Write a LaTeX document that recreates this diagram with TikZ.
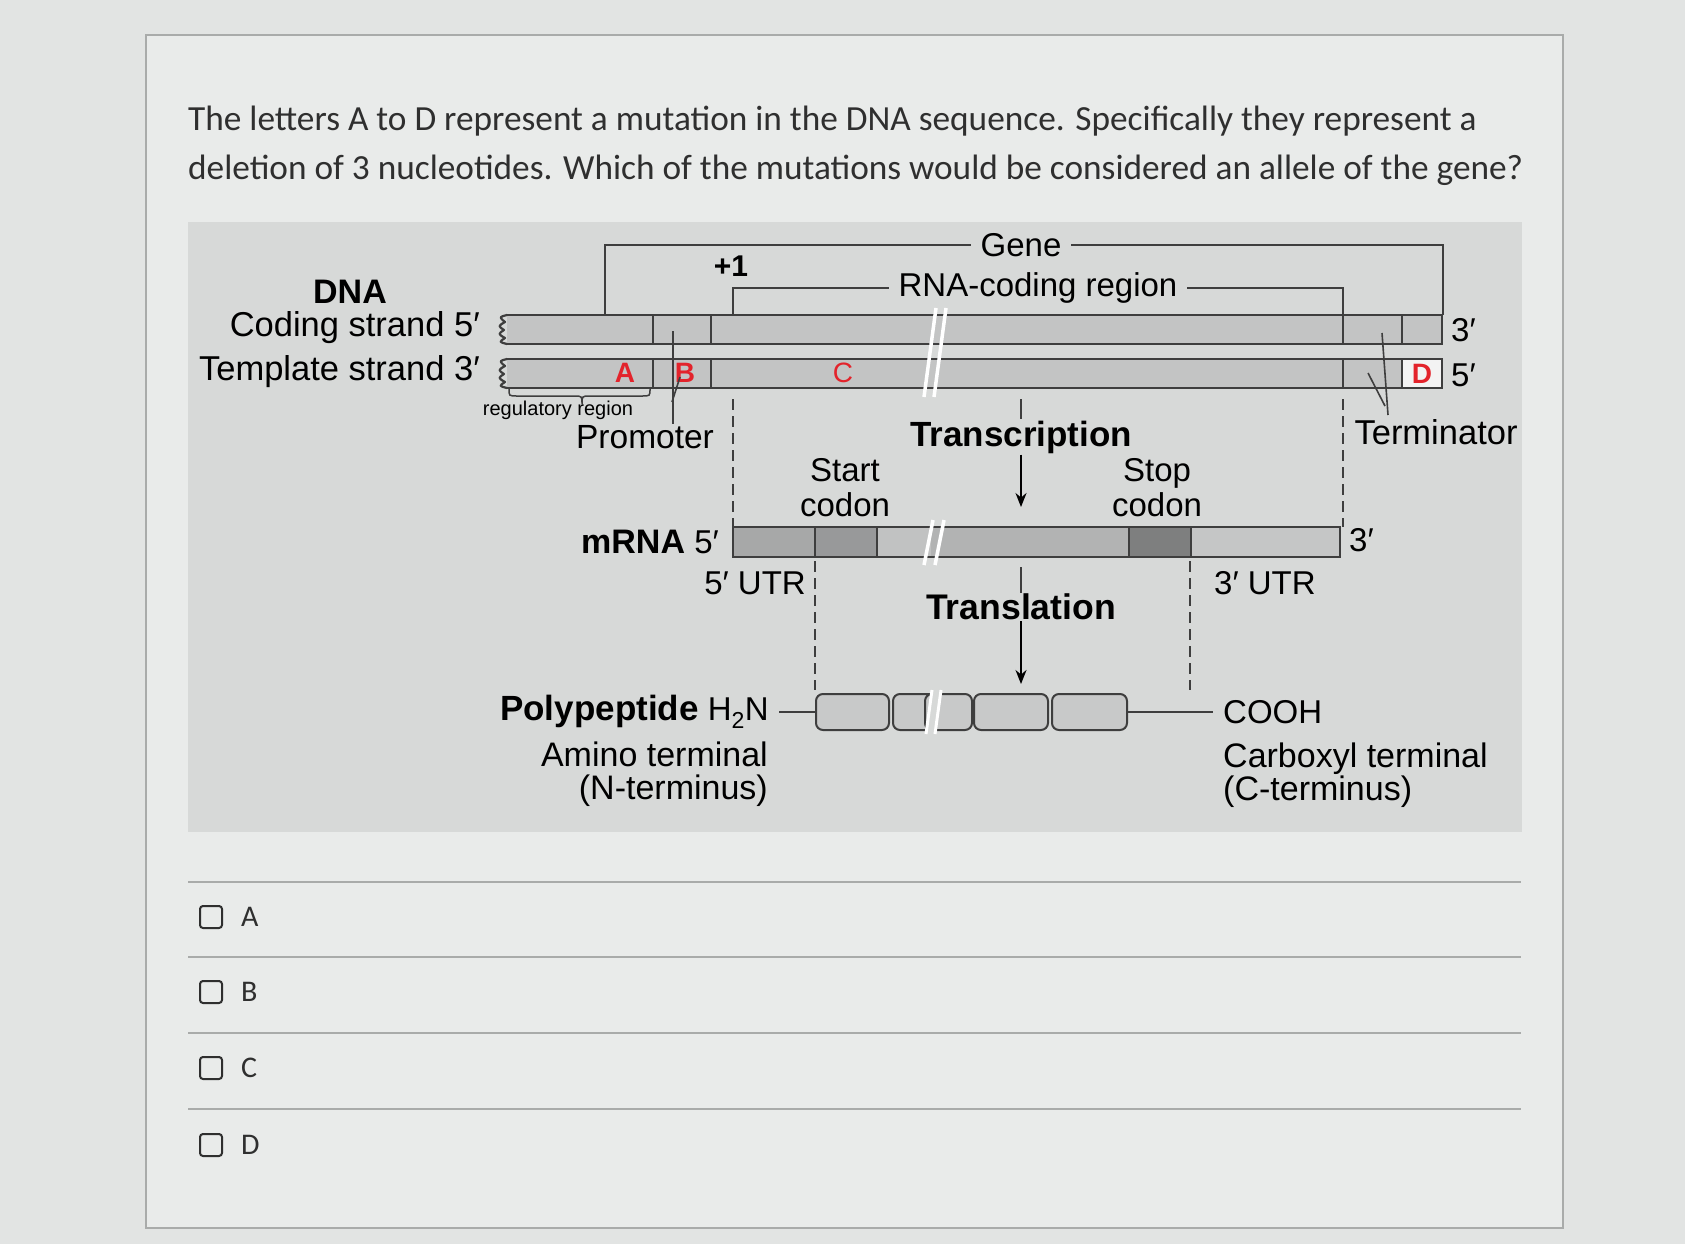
\documentclass[tikz,border=0pt]{standalone}
\usepackage{fontspec}
\setmainfont{Liberation Sans}
\newfontfamily\quizfont{Carlito}
\usetikzlibrary{arrows.meta}
\definecolor{pagebg}{HTML}{E2E4E3}
\definecolor{panelbg}{HTML}{E9EBEA}
\definecolor{rulegray}{HTML}{A9ABAA}
\definecolor{figbg}{HTML}{D7D9D8}
\definecolor{strandgray}{HTML}{C3C4C4}
\definecolor{inkgray}{HTML}{3E3E3E}
\definecolor{mutred}{HTML}{E3232B}
\definecolor{utrfive}{HTML}{A7A8A8}
\definecolor{startcod}{HTML}{98999A}
\definecolor{codreg}{HTML}{B2B3B3}
\definecolor{stopcod}{HTML}{7E7F7F}
\definecolor{utrthree}{HTML}{C5C6C6}
\definecolor{beadgray}{HTML}{C8C9C9}
\definecolor{quizink}{HTML}{2F2F2F}
\newcommand{\wavyend}[2]{
  \draw[inkgray, line width=2.2pt, line join=round] (#1,#2) .. controls (#1-8,#2+2) .. (#1-2,#2+7)
    .. controls (#1-9,#2+11) .. (#1-3,#2+15) .. controls (#1-9,#2+19) .. (#1-2,#2+23)
    .. controls (#1-8,#2+27) .. (#1,#2+29);
}

\tikzset{
  lbl/.style={inner sep=1pt, text=black, font=\fontsize{33}{35}\selectfont},
  blbl/.style={lbl, font=\bfseries\fontsize{35}{37}\selectfont},
  mut/.style={inner sep=0pt, text=mutred, font=\bfseries\fontsize{28}{30}\selectfont},
  bracket/.style={draw=inkgray, line width=2pt},
  guide/.style={draw=inkgray, line width=2pt, dash pattern=on 11pt off 6pt},
  pointer/.style={draw=inkgray, line width=1.6pt},
  flow/.style={draw=black, line width=2pt, -{Stealth[length=14pt,width=11pt]}},
  bead/.style={draw=inkgray, line width=2pt, fill=beadgray, rounded corners=7pt, minimum height=36pt, inner sep=0pt},
  cut/.style={white, line width=3.5pt},
}

\begin{document}
\begin{tikzpicture}[x=1pt,y=-1pt]
\useasboundingbox (0,0) rectangle (1685,1244);
% page, panel and question
\fill[pagebg] (0,0) rectangle (1685,1244);
\fill[panelbg] (146,35) rectangle (1563,1228);
\draw[rulegray, line width=1.5pt] (146,35) -- (1563,35) -- (1563,1228) -- (146,1228) -- cycle;
\node[anchor=west, align=left, inner sep=0pt, text=quizink, font=\quizfont\fontsize{35.3}{49}\selectfont] (question) at (188,146)
  {The letters A to D represent a mutation in the DNA sequence. Specifically they represent a\\
   deletion of 3 nucleotides. Which of the mutations would be considered an allele of the gene?};
\fill[figbg] (188,222) rectangle (1522,832);

% gene brackets
\node[lbl, inner xsep=9pt] (gene) at (1021,245) {Gene};
\draw[bracket] (605,315) |- (gene.west);
\draw[bracket] (1443,315) |- (gene.east);
\node[lbl, inner xsep=9pt] (rnacode) at (1038,288) {RNA-coding region};
\draw[bracket] (733,315) |- (rnacode.west);
\draw[bracket] (1343,315) |- (rnacode.east);
\node[lbl, font=\bfseries\fontsize{30}{32}\selectfont] (plusone) at (731,266) {+1};

% DNA strands
\fill[strandgray] (507,315) rectangle (1442,344);
\fill[strandgray] (507,359) rectangle (1442,388);
\fill[white!80!strandgray] (1402,359) rectangle (1442,388);
\draw[inkgray, line width=2pt] (507,315) -- (1442,315) -- (1442,344) -- (507,344);
\draw[inkgray, line width=2pt] (507,359) -- (1442,359) -- (1442,388) -- (507,388);
\wavyend{507}{315}
\wavyend{507}{359}
\foreach \xd in {653,711,1343,1402} {
  \draw[inkgray, line width=2pt] (\xd,315) -- (\xd,344);
  \draw[inkgray, line width=2pt] (\xd,359) -- (\xd,388);
}
\draw[cut] (924,397) -- (936,308);
\draw[cut] (934,397) -- (946,308);

\node[blbl, font=\bfseries\fontsize{34}{36}\selectfont] (dna) at (350,292) {DNA};
\node[lbl, anchor=east, font=\fontsize{34.5}{36}\selectfont] (coding) at (481,328) {Coding strand 5′};
\node[lbl, anchor=east, font=\fontsize{34.5}{36}\selectfont] (template) at (481,372) {Template strand 3′};
\node[lbl, anchor=west] (cod3) at (1450,330) {3′};
\node[lbl, anchor=west] (tem5) at (1450,375) {5′};

% mutations
\node[mut] (mutA) at (625,373) {A};
\node[mut] (mutB) at (685,373) {B};
\node[mut, font=\fontsize{28}{30}\selectfont] (mutC) at (843,373) {C};
\node[mut] (mutD) at (1422,374) {D};

% regulatory region and promoter
\draw[inkgray, line width=1.5pt] (509,389) .. controls (509,396) .. (517,396) -- (574,396)
  .. controls (582,396) .. (582,404) .. controls (582,396) .. (590,396) -- (642,396) .. controls (650,396) .. (650,389);
\node[inner sep=0pt, font=\fontsize{20}{22}\selectfont] (regreg) at (558,410) {regulatory region};
\node[lbl, font=\fontsize{33.5}{35}\selectfont] (promoter) at (645,437) {Promoter};
\coordinate (promcod) at (673,331);
\coordinate (promtem) at (680,377);
\coordinate (promjoin) at (672,402);
\draw[pointer] (promcod) -- (promcod |- promoter.north);
\draw[pointer] (promtem) -- (promjoin);

% terminator
\node[lbl, font=\fontsize{34.5}{36}\selectfont] (terminator) at (1436,432) {Terminator};
\coordinate (termcod) at (1382,333);
\coordinate (termfoot) at (1388,415);
\coordinate (termtem) at (1368,373);
\coordinate (termjoin) at (1385,406);
\draw[pointer] (termcod) -- (termfoot);
\draw[pointer] (termtem) -- (termjoin);

% transcription
\node[blbl] (transcr) at (1021,437) {Transcription};
\coordinate (transtick) at (1021,399);
\coordinate (mrnatop) at (1021,507);
\draw[pointer, line width=2pt] (transtick) -- (transcr.north);
\draw[flow] (transcr.south) -- (mrnatop);
\node[lbl, align=center] (startc) at (845,488) {Start\\codon};
\node[lbl, align=center] (stopc) at (1157,488) {Stop\\codon};

% mRNA
\fill[utrfive] (733,527) rectangle (815,557);
\fill[startcod] (815,527) rectangle (877,557);
\fill[codreg!80!white] (877,527) rectangle (931,557);
\fill[codreg] (931,527) rectangle (1129,557);
\fill[stopcod] (1129,527) rectangle (1191,557);
\fill[utrthree] (1191,527) rectangle (1340,557);
\draw[inkgray, line width=2pt] (733,527) rectangle (1340,557);
\foreach \xd in {815,877,1129,1191}
  \draw[inkgray, line width=2pt] (\xd,527) -- (\xd,557);
\draw[cut] (924,565) -- (933,520);
\draw[cut] (935,565) -- (944,520);
\node[lbl, anchor=east] (mrna) at (720,542) {{\bfseries\fontsize{34}{36}\selectfont mRNA} 5′};
\node[lbl, anchor=west] (mrna3) at (1348,540) {3′};
\node[lbl, anchor=east] (utr5) at (807,583) {5′ UTR};
\node[lbl, anchor=west] (utr3) at (1213,583) {3′ UTR};

% dashed guides
\coordinate (plusup) at (733,399);
\coordinate (plusdown) at (733,527);
\coordinate (termup) at (1343,399);
\coordinate (termdown) at (1343,527);
\coordinate (startup) at (815,561);
\coordinate (startdown) at (815,690);
\coordinate (stopup) at (1190,561);
\coordinate (stopdown) at (1190,690);
\draw[guide] (plusup) -- (plusdown);
\draw[guide] (termup) -- (termdown);
\draw[guide] (startup) -- (startdown);
\draw[guide] (stopup) -- (stopdown);

% translation
\node[blbl, font=\bfseries\fontsize{35.6}{37}\selectfont] (transl) at (1021,607) {Translation};
\coordinate (transltick) at (1021,567);
\coordinate (peptop) at (1021,684);
\draw[pointer, line width=2pt] (transltick) -- (transl.north);
\draw[flow] (transl.south) -- (peptop);

% polypeptide
\node[bead, minimum width=73pt] (bead1) at (852.5,712) {};
\node[bead, minimum width=47pt] (bead2) at (916.5,712) {};
\node[bead, minimum width=47pt] (bead3) at (948.5,712) {};
\node[bead, minimum width=74pt] (bead4) at (1011,712) {};
\node[bead, minimum width=75pt] (bead5) at (1089.5,712) {};
\fill[figbg] (926,734) -- (932,690) -- (941,690) -- (935,734) -- cycle;
\draw[cut, line width=3pt] (926,734) -- (932,690);
\draw[cut, line width=3pt] (935,734) -- (941,690);
\node[lbl, anchor=east] (polyp) at (770,712) {{\bfseries\fontsize{35}{37}\selectfont Polypeptide} H\textsubscript{2}N};
\node[lbl, anchor=east, align=right, font=\fontsize{34}{33}\selectfont] (amino) at (769,774) {Amino terminal\\(N-terminus)};
\node[lbl, anchor=west] (cooh) at (1222,712) {COOH};
\node[lbl, anchor=west, align=left, font=\fontsize{34}{33}\selectfont] (carboxyl) at (1222,775) {Carboxyl terminal\\(C-terminus)};
\draw[bracket] ([xshift=9pt]polyp.east) -- (bead1.west);
\draw[bracket] (bead5.east) -- ([xshift=-9pt]cooh.west);

% answer options
\foreach \yy in {882,957,1033,1109}
  \draw[rulegray, line width=1.5pt] (188,\yy) -- (1521,\yy);
\foreach \yy/\lab in {917/A,992/B,1068/C,1145/D} {
  \node[draw=quizink, line width=2pt, rounded corners=3pt, minimum size=22pt, inner sep=0pt] (box\lab) at (211,\yy) {};
  \node[anchor=west, inner sep=0pt, text=quizink, font=\quizfont\fontsize{30}{32}\selectfont] (opt\lab) at (241,\yy) {\lab};
}
\end{tikzpicture}
\end{document}
